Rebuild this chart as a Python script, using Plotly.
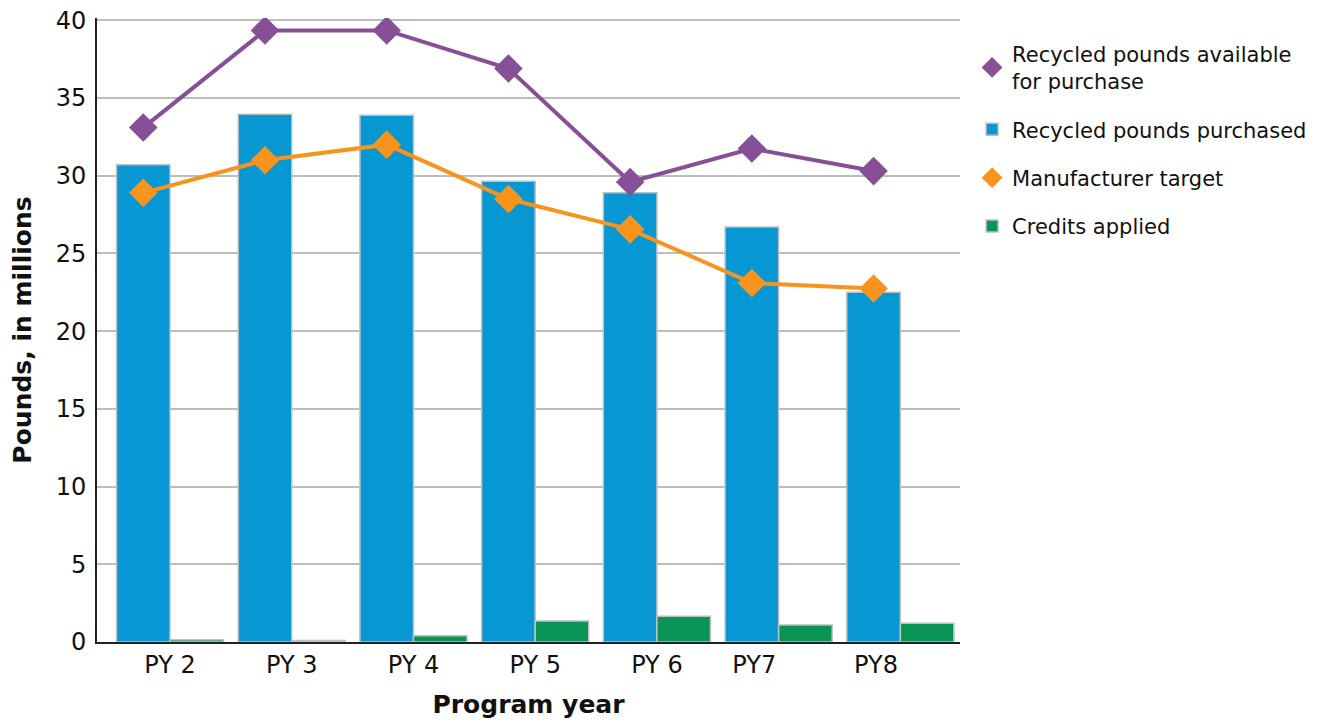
import plotly.graph_objects as go

years = ["PY 2", "PY 3", "PY 4", "PY 5", "PY 6", "PY7", "PY8"]
available = [33.1, 39.35, 39.35, 36.9, 29.6, 31.75, 30.3]
purchased = [30.7, 33.95, 33.9, 29.65, 28.9, 26.7, 22.5]
target = [28.9, 31.0, 32.0, 28.5, 26.55, 23.1, 22.75]
credits = [0.15, 0.1, 0.4, 1.35, 1.65, 1.1, 1.2]
y_ticks = [0, 5, 10, 15, 20, 25, 30, 35, 40]

x = list(range(len(years)))
bw = 0.44
xl = [v - bw / 2 for v in x]

PURPLE = "#874f95"
BLUE = "#0797d3"
ORANGE = "#f7941d"
GREEN = "#0a9455"
FONT = "DejaVu Sans"

fig = go.Figure()

fig.add_trace(go.Bar(x=x, y=purchased, width=bw, offset=-bw, name="Recycled pounds purchased",
                     marker=dict(color=BLUE, line=dict(color="#c0c0c0", width=1.5)),
                     legendgroup="b", legendrank=2))
fig.add_trace(go.Bar(x=x, y=credits, width=bw, offset=0, name="Credits applied",
                     marker=dict(color=GREEN, line=dict(color="#c0c0c0", width=1.5)),
                     legendgroup="d", legendrank=4))

fig.add_trace(go.Scatter(x=xl, y=available, mode="lines", line=dict(color=PURPLE, width=4),
                         showlegend=False, hoverinfo="skip"))
fig.add_trace(go.Scatter(x=xl, y=target, mode="lines", line=dict(color=ORANGE, width=4),
                         showlegend=False, hoverinfo="skip"))
fig.add_trace(go.Scatter(x=xl, y=available, mode="markers", name="Recycled pounds available<br>for purchase",
                         marker=dict(symbol="diamond", size=22, color=PURPLE),
                         legendgroup="a", legendrank=1))
fig.add_trace(go.Scatter(x=xl, y=target, mode="markers", name="Manufacturer target",
                         marker=dict(symbol="diamond", size=22, color=ORANGE),
                         legendgroup="c", legendrank=3))

tickpos = [0, 1, 2, 3, 4, 4.8, 5.8]

fig.update_layout(
    width=1322, height=725,
    margin=dict(l=89, r=370, t=10, b=91, autoexpand=False),
    paper_bgcolor="white", plot_bgcolor="white",
    font=dict(family=FONT, color="#111111"),
    barmode="overlay",
    showlegend=True,
    legend=dict(x=1.014, y=0.975, xanchor="left", yanchor="top",
                font=dict(family=FONT, size=21, color="#111111"),
                traceorder="grouped", tracegroupgap=18, itemwidth=30),
    xaxis=dict(range=[-0.6, 6.49], tickvals=tickpos, ticktext=years, automargin=False,
               showgrid=False, zeroline=False, showline=True, linecolor="#222222", linewidth=2,
               ticks="", tickfont=dict(size=24, family=FONT),
               title=dict(text="<b>Program year</b>", font=dict(size=25, family=FONT), standoff=18)),
    yaxis=dict(range=[0, 40.15], tickvals=y_ticks, showgrid=True,
               gridcolor="#bdbdbd", gridwidth=1.5, ticklabeloverflow="allow",
               zeroline=False, showline=True, linecolor="#222222", linewidth=2, automargin=False,
               ticks="", tickfont=dict(size=24, family=FONT), ticklabelstandoff=4,
               title=dict(text="<b>Pounds, in millions</b>", font=dict(size=25, family=FONT), standoff=18)),
)

fig.write_html("out.html")
